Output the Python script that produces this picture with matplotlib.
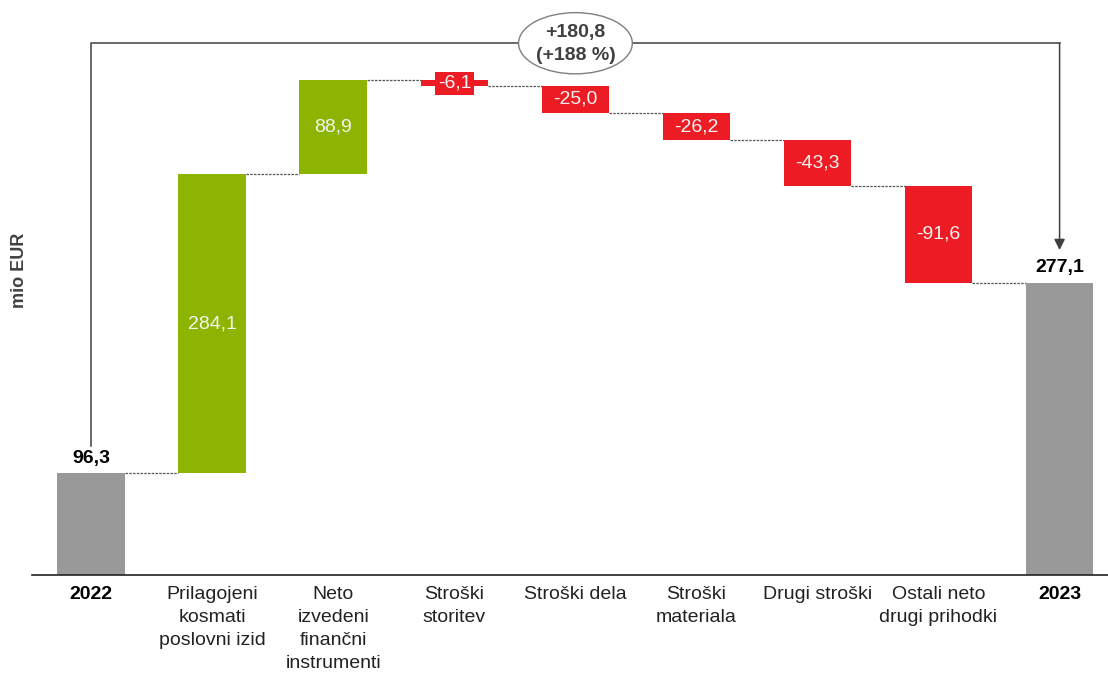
import matplotlib.pyplot as plt
import numpy as np
from matplotlib.patches import Ellipse

plt.rcParams['font.family'] = ['Liberation Sans', 'DejaVu Sans']

categories = ['2022', 'Prilagojeni\nkosmati\nposlovni izid', 'Neto\nizvedeni\nfinančni\ninstrumenti',
              'Stroški\nstoritev', 'Stroški dela', 'Stroški\nmateriala', 'Drugi stroški',
              'Ostali neto\ndrugi prihodki', '2023']
values = [96.3, 284.1, 88.9, -6.1, -25.0, -26.2, -43.3, -91.6, 277.1]
is_total = [True, False, False, False, False, False, False, False, True]

GRAY = '#999999'
GREEN = '#8db400'
RED = '#ed1c24'
DARK = '#404040'

def fmt(v):
    return f"{v:.1f}".replace('.', ',')

fig = plt.figure(figsize=(11.08, 6.73), dpi=100)
W, H = 1108, 673
# axes in pixel terms: left 32, right 1108, bottom baseline at 575 from top, top 0
ax = fig.add_axes([32 / W, (H - 575) / H, (1108 - 32) / W, 575 / H])
ax.set_xlim(-0.49, 8.4)
ax.set_ylim(0, 545)

x = np.arange(len(values))
bw = 0.56
bottoms = []
tops = []
run = 0
for v, tot in zip(values, is_total):
    if tot:
        bottoms.append(0)
        tops.append(v)
        run = v
    else:
        new = run + v
        bottoms.append(min(run, new))
        tops.append(max(run, new))
        run = new

colors = []
for v, tot in zip(values, is_total):
    colors.append(GRAY if tot else (GREEN if v > 0 else RED))

heights = [t - b for t, b in zip(tops, bottoms)]
ax.bar(x, heights, bottom=bottoms, width=bw, color=colors, zorder=2)

# connectors
level = 0
for i in range(len(values) - 1):
    level = values[i] if is_total[i] else level + values[i]
    ax.plot([x[i] + bw / 2, x[i + 1] - bw / 2], [level, level], color='#555555',
            lw=0.9, ls=(0, (2, 1)), zorder=1)

# value labels
for i, (v, tot) in enumerate(zip(values, is_total)):
    if tot:
        ax.text(x[i], tops[i] + 6, fmt(v), ha='center', va='bottom', fontsize=14,
                fontweight='bold', color='black')
    else:
        mid = (tops[i] + bottoms[i]) / 2
        if heights[i] < 15:
            ax.text(x[i], mid, fmt(v), ha='center', va='center', fontsize=14, color='#f4f4f4',
                    bbox=dict(boxstyle='square,pad=0.15', fc=colors[i], ec='none'), zorder=3)
        else:
            ax.text(x[i], mid, fmt(v), ha='center', va='center', fontsize=14, color='#f4f4f4',
                    zorder=3)

# bracket arrow between totals
ytop = 504
ax.plot([x[0], x[0], x[-1]], [122, ytop, ytop], color=DARK, lw=1.1, clip_on=False, zorder=1)
ax.annotate('', xy=(x[-1], 308), xytext=(x[-1], ytop),
            arrowprops=dict(arrowstyle='-|>', mutation_scale=16, color=DARK, lw=1.1,
                            shrinkA=0, shrinkB=0), annotation_clip=False)
diff = values[-1] - values[0]
pct = diff / values[0] * 100
ell = Ellipse((4.0, ytop), width=0.94, height=58, fc='white', ec='#7f7f7f', lw=1.0,
              clip_on=False, zorder=4)
ax.add_patch(ell)
ax.text(4.0, ytop - 1, f"+{fmt(diff)}\n(+{pct:.0f} %)", ha='center', va='center', fontsize=14,
        fontweight='bold', color=DARK, linespacing=1.45, zorder=5)

ax.set_xticks(x)
ax.set_xticklabels(categories, fontsize=14, linespacing=1.45, color='#222222', va='top')
for i, lbl in enumerate(ax.get_xticklabels()):
    if is_total[i]:
        lbl.set_fontweight('bold')
        lbl.set_color('black')
ax.tick_params(axis='x', length=0, pad=8)
ax.set_yticks([])
for s in ['top', 'right', 'left']:
    ax.spines[s].set_visible(False)
ax.spines['bottom'].set_color('#222222')
ax.spines['bottom'].set_linewidth(1.2)

fig.text(20 / W, 1 - 270 / H, 'mio EUR', rotation=90, ha='center', va='center',
         fontsize=13, fontweight='bold', color=DARK)

fig.savefig('out.png', dpi=100)
